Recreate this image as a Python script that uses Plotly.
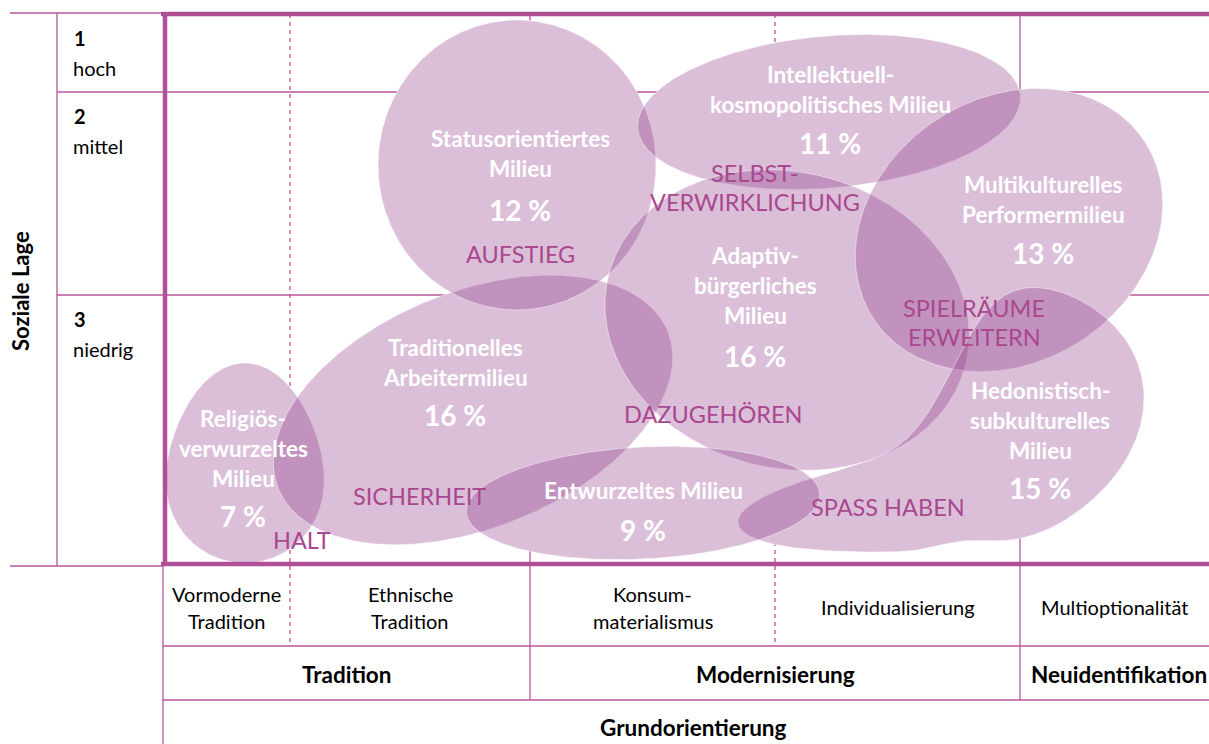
import numpy as np
import plotly.graph_objects as go

W, H = 1209, 744

# ---------------- data ----------------
milieu_names = [
    "Religiös-<br>verwurzeltes<br>Milieu",
    "Traditionelles<br>Arbeitermilieu",
    "Statusorientiertes<br>Milieu",
    "Intellektuell-<br>kosmopolitisches Milieu",
    "Adaptiv-<br>bürgerliches<br>Milieu",
    "Multikulturelles<br>Performermilieu",
    "Hedonistisch-<br>subkulturelles<br>Milieu",
    "Entwurzeltes Milieu",
]
milieu_share = [7, 16, 12, 11, 16, 13, 15, 9]

# position / extent of each milieu on the map (map units = pixels)
milieu_x = [245, 473, 517, 829, 787, 1009, 941, 643]
milieu_y = [463, 410, 165, 112, 320, 230, 500, 503]
milieu_a = [100, 210, 145, 192, 184, 162, 203, 177]
milieu_b = [64, 118, 139, 76, 148, 132, 46, 56]
milieu_rot = [90, -22, 90, -5, 14, -33, 0, -3]
# shape deformation: width at the "head" end, where it swells, how fast,
# upward bend of the axis, where, how fast, and linear slope
milieu_b_head = [92, 118, 139, 76, 148, 132, 145, 56]
milieu_head_at = [0.0, 0, 0, 0, 0, 0, 0.10, 0]
milieu_head_w = [0.5, 1, 1, 1, 1, 1, 0.13, 1]
milieu_bend = [0, 0, 0, 0, 0, 0, 80, 0]
milieu_bend_at = [0, 0, 0, 0, 0, 0, 0.04, 0]
milieu_bend_w = [1, 1, 1, 1, 1, 1, 0.1, 1]
milieu_slope = [0, 0, 0, 0, 0, 0, 22, 0]

# label anchor (x, first line y, percent y)
label_x = [243, 455, 520, 830, 755, 1043, 1040, 643]
label_y = [418, 347, 138, 74, 255, 184, 390, 490]
pct_y = [516, 415, 210, 143, 356, 253, 488, 530]

keywords = ["HALT", "SICHERHEIT", "AUFSTIEG", "SELBST-<br>VERWIRKLICHUNG",
            "DAZUGEHÖREN", "SPIELRÄUME<br>ERWEITERN", "SPASS HABEN"]
keyword_x = [302, 419, 520, 755, 713, 974, 888]
keyword_y = [540, 496, 254, 173, 414, 308, 507]

row_numbers = ["1", "2", "3"]
row_names = ["hoch", "mittel", "niedrig"]
row_edges = [14, 92, 295, 565]

sub_orient = ["Vormoderne<br>Tradition", "Ethnische<br>Tradition",
              "Konsum-<br>materialismus", "Individualisierung", "Multioptionalität"]
sub_edges = [163, 290, 530, 775, 1020, 1209]
main_orient = ["Tradition", "Modernisierung", "Neuidentifikation"]
main_edges = [163, 530, 1020, 1209]

# ---------------- styles ----------------
LINE = "#b8559c"
THICK = "#b04f97"
KEY = "#a9478f"
FILL = "rgba(135,42,128,0.30)"
FONT = "Lato"


def sig(z):
    return 1.0 / (1.0 + np.exp(-z))


def blob(cx, cy, a, b, rot, b1, s0, sw, d, s1, dw, m, n=600):
    t = np.linspace(0, 2 * np.pi, n)
    s = np.cos(t)
    g = b + (b1 - b) * sig((s - s0) / sw)
    u = a * s
    v = -d * sig((s - s1) / dw) - m * s + np.sin(t) * g
    th = np.radians(rot)
    return cx + u * np.cos(th) - v * np.sin(th), cy + u * np.sin(th) + v * np.cos(th)


fig = go.Figure()
shapes = []


def hline(y, x0, x1, color=LINE, width=1.3, dash="solid", layer="below"):
    shapes.append(dict(type="line", xref="x", yref="y", x0=x0, x1=x1, y0=y, y1=y,
                       line=dict(color=color, width=width, dash=dash), layer=layer))


def vline(x, y0, y1, color=LINE, width=1.3, dash="solid", layer="below"):
    shapes.append(dict(type="line", xref="x", yref="y", x0=x, x1=x, y0=y0, y1=y1,
                       line=dict(color=color, width=width, dash=dash), layer=layer))


# grid
hline(row_edges[0] - 1, 10, sub_edges[0])
for y in row_edges[1:3]:
    hline(y, 57, W)
hline(row_edges[3] + 1, 10, sub_edges[0])
vline(57, row_edges[0] - 1, row_edges[3] + 1)
for x in sub_edges[1:-1]:
    if x in main_edges:
        vline(x, row_edges[0], 700)
    else:
        vline(x, row_edges[0], 646, dash="4px,4px")
vline(sub_edges[0], row_edges[3], H)
hline(646, sub_edges[0], W)
hline(700, sub_edges[0], W)

# white underlay to hide grid inside blobs
outlines = [blob(*p) for p in zip(milieu_x, milieu_y, milieu_a, milieu_b, milieu_rot,
                                  milieu_b_head, milieu_head_at, milieu_head_w,
                                  milieu_bend, milieu_bend_at, milieu_bend_w, milieu_slope)]
for X, Y in outlines:
    fig.add_trace(go.Scatter(x=X, y=Y, mode="lines", fill="toself", fillcolor="white",
                             line=dict(width=0), hoverinfo="skip", showlegend=False))
for X, Y in outlines:
    fig.add_trace(go.Scatter(x=X, y=Y, mode="lines", fill="toself", fillcolor=FILL,
                             line=dict(width=0.8, color="rgba(255,255,255,0.55)"),
                             hoverinfo="skip", showlegend=False))

# thick frame on top
hline(row_edges[0], sub_edges[0] - 2, W, color=THICK, width=4.5, layer="above")
hline(row_edges[3] - 1, sub_edges[0] - 2, W, color=THICK, width=4.5, layer="above")
vline(sub_edges[0] + 2, row_edges[0], row_edges[3] - 1, color=THICK, width=4.5, layer="above")

ann = []


def text(x, y, s, size, color="black", bold=False, anchor="center"):
    ann.append(dict(x=x, y=y, xref="x", yref="y", text=(f"<b>{s}</b>" if bold else s),
                    showarrow=False, xanchor=anchor, yanchor="middle",
                    font=dict(family=FONT, size=size, color=color)))


# milieu labels
for name, share, lx, ly, py in zip(milieu_names, milieu_share, label_x, label_y, pct_y):
    for i, line in enumerate(name.split("<br>")):
        text(lx, ly + i * 30, line, 22.5, "white", True)
    text(lx, py, f"{share} %", 28, "white", True)

for kw, kx, ky in zip(keywords, keyword_x, keyword_y):
    for i, line in enumerate(kw.split("<br>")):
        text(kx, ky + i * 29, line, 23.5, KEY)

# left axis
for num, nm, y0 in zip(row_numbers, row_names, row_edges[:3]):
    text(72, y0 + 24, num, 20, "black", True, "left")
    text(71, y0 + 54, nm, 20, "black", False, "left")
ann.append(dict(x=20, y=291, xref="x", yref="y", text="<b>Soziale Lage</b>", textangle=-90,
                showarrow=False, font=dict(family=FONT, size=22, color="black")))

# bottom axis
for s, x0, x1 in zip(sub_orient, sub_edges[:-1], sub_edges[1:]):
    lines = s.split("<br>")
    for i, line in enumerate(lines):
        text((x0 + x1) / 2, 607 + (i - (len(lines) - 1) / 2) * 27, line, 20)
for s, x0, x1 in zip(main_orient, main_edges[:-1], main_edges[1:]):
    text((x0 + x1) / 2 + (4 if x1 == W else 0), 674, s, 22.5, "black", True)
text((main_edges[0] + W) / 2 + 7, 727, "Grundorientierung", 22.5, "black", True)

fig.update_layout(
    width=W, height=H, autosize=False,
    margin=dict(l=0, r=0, t=0, b=0),
    paper_bgcolor="white", plot_bgcolor="white",
    xaxis=dict(range=[0, W], visible=False, fixedrange=True),
    yaxis=dict(range=[H, 0], visible=False, fixedrange=True),
    shapes=shapes, annotations=ann, showlegend=False,
)
fig.write_html(
    "out.html",
    config={"displayModeBar": False, "staticPlot": True},
    post_script="document.documentElement.style.margin='0';document.body.style.margin='0';"
                "document.body.style.overflow='hidden';document.documentElement.style.overflow='hidden';",
)
